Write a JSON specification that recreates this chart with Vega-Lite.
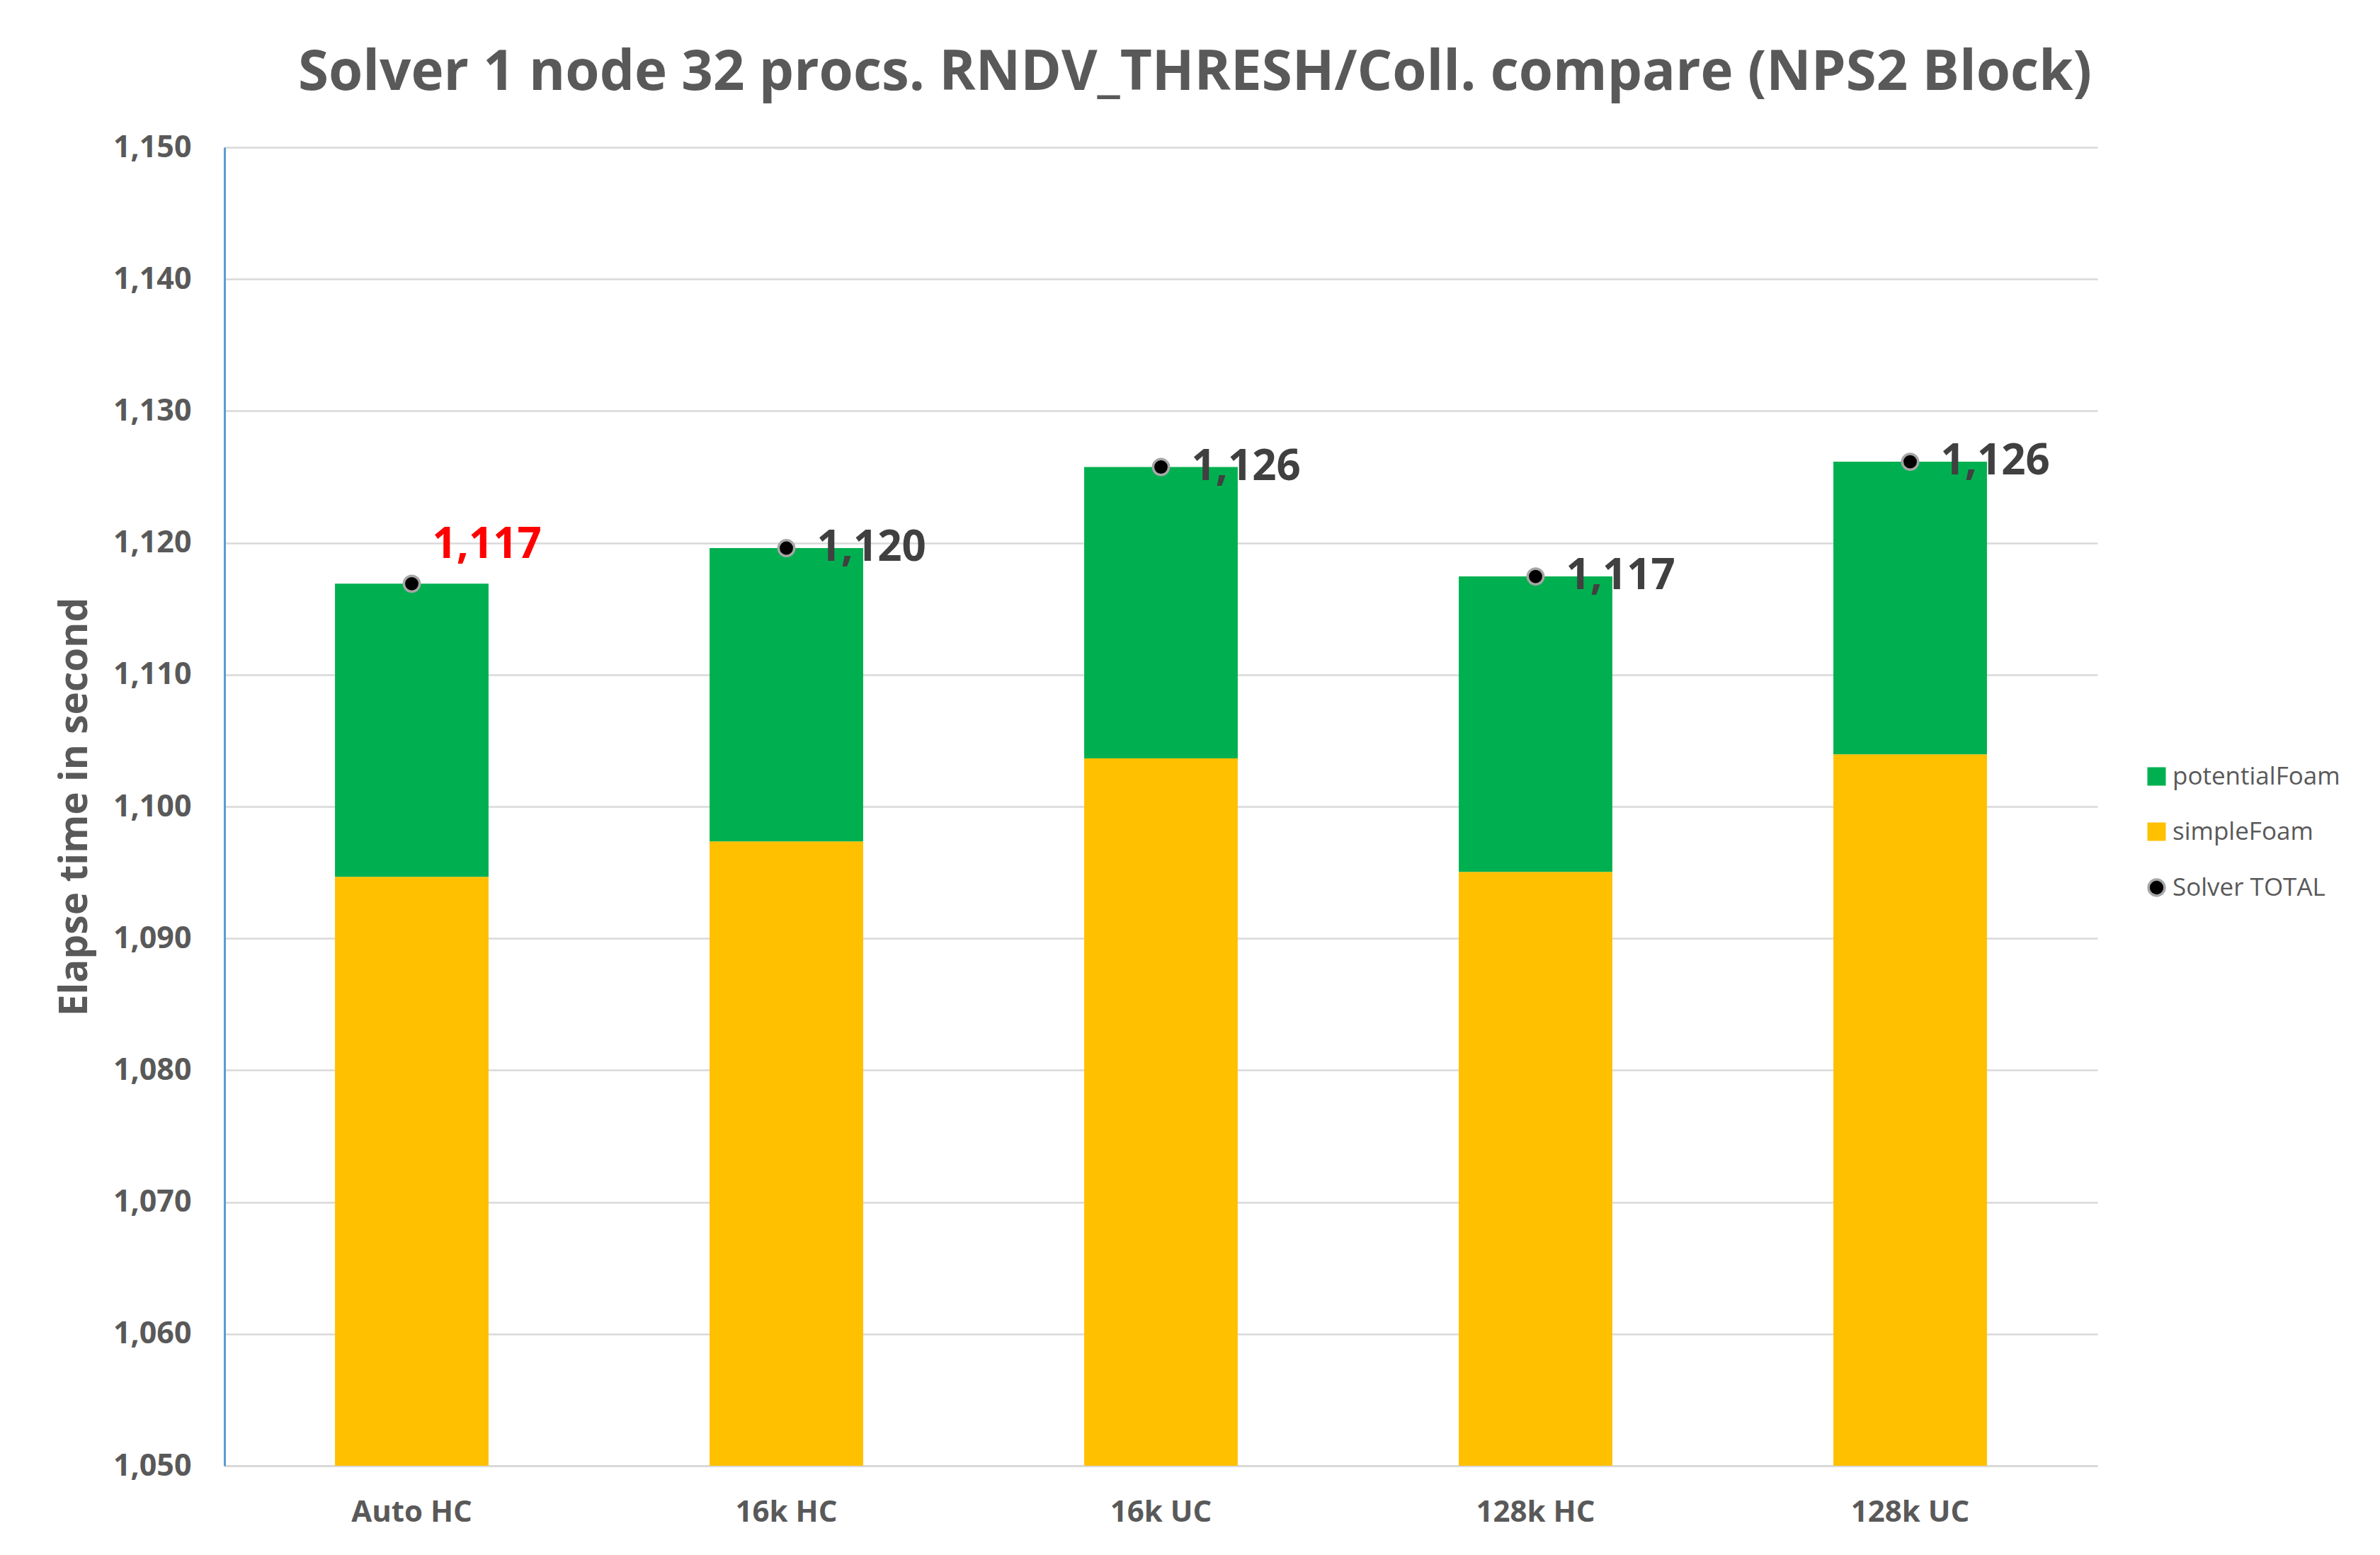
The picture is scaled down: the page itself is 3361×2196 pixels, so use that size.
{
  "$schema": "https://vega.github.io/schema/vega-lite/v6.json",
  "autosize": "none",
  "width": 2645,
  "height": 1862,
  "padding": {"left": 317, "top": 208, "right": 399, "bottom": 126},
  "background": "white",
  "config": {"view": {"stroke": null}},
  "title": {
    "text": "Solver 1 node 32 procs. RNDV_THRESH/Coll. compare (NPS2 Block)",
    "font": "Open Sans",
    "fontSize": 78,
    "fontWeight": "bold",
    "color": "#595959",
    "anchor": "middle",
    "frame": "group",
    "dx": 48,
    "baseline": "alphabetic",
    "offset": -18
  },
  "datasets": {
    "parts": [
      {"config": "Auto HC", "series": "simpleFoam", "value": 1094.67},
      {"config": "Auto HC", "series": "potentialFoam", "value": 22.23},
      {"config": "16k HC", "series": "simpleFoam", "value": 1097.35},
      {"config": "16k HC", "series": "potentialFoam", "value": 22.25},
      {"config": "16k UC", "series": "simpleFoam", "value": 1103.65},
      {"config": "16k UC", "series": "potentialFoam", "value": 22.1},
      {"config": "128k HC", "series": "simpleFoam", "value": 1095.04},
      {"config": "128k HC", "series": "potentialFoam", "value": 22.41},
      {"config": "128k UC", "series": "simpleFoam", "value": 1103.96},
      {"config": "128k UC", "series": "potentialFoam", "value": 22.19}
    ],
    "totals": [
      {"config": "Auto HC", "total": 1116.9},
      {"config": "16k HC", "total": 1119.6},
      {"config": "16k UC", "total": 1125.75},
      {"config": "128k HC", "total": 1117.45},
      {"config": "128k UC", "total": 1126.15}
    ]
  },
  "layer": [
    {
      "data": {"name": "parts"},
      "mark": {"type": "bar", "clip": true},
      "encoding": {
        "x": {
          "field": "config",
          "type": "nominal",
          "sort": null,
          "scale": {"paddingInner": 0.59, "paddingOuter": 0.295},
          "axis": {
            "title": null,
            "labelFont": "Open Sans",
            "labelFontSize": 42,
            "labelFontWeight": "bold",
            "labelColor": "#595959",
            "labelAngle": 0,
            "ticks": false,
            "tickSize": 0,
            "labelPadding": 45,
            "domainColor": "#D9D9D9",
            "domainWidth": 3,
            "grid": false
          }
        },
        "y": {
          "field": "value",
          "type": "quantitative",
          "stack": "zero",
          "scale": {"domain": [1050, 1150], "nice": false, "zero": false},
          "axis": {
            "title": "Elapse time in second",
            "titleFont": "Open Sans",
            "titleFontSize": 55,
            "titleFontWeight": "bold",
            "titleColor": "#595959",
            "titlePadding": 25,
            "values": [1050, 1060, 1070, 1080, 1090, 1100, 1110, 1120, 1130, 1140, 1150],
            "format": ",d",
            "labelFont": "Open Sans",
            "labelFontSize": 43,
            "labelFontWeight": "bold",
            "labelColor": "#595959",
            "labelPadding": 47,
            "ticks": false,
            "tickSize": 0,
            "domainColor": "#5B9BD5",
            "domainWidth": 3,
            "grid": true,
            "gridColor": "#D9D9D9",
            "gridWidth": 2.5
          }
        },
        "color": {
          "field": "series",
          "type": "nominal",
          "scale": {
            "domain": ["potentialFoam", "simpleFoam", "Solver TOTAL"],
            "range": ["#00B050", "#FFC000", "#000000"]
          },
          "legend": {
            "orient": "none",
            "legendX": 2711,
            "legendY": 871,
            "title": null,
            "labelFont": "Open Sans",
            "labelFontSize": 35,
            "labelColor": "#595959",
            "labelLimit": 600,
            "symbolType": "square",
            "symbolSize": 676,
            "symbolStrokeWidth": 0,
            "rowPadding": 42,
            "labelOffset": 5,
            "encode": {
              "symbols": {
                "update": {
                  "shape": {"signal": "datum.value === 'Solver TOTAL' ? 'circle' : 'square'"},
                  "size": {"signal": "datum.value === 'Solver TOTAL' ? 520 : 676"},
                  "stroke": {"signal": "datum.value === 'Solver TOTAL' ? '#A6A6A6' : 'transparent'"},
                  "strokeWidth": {"signal": "datum.value === 'Solver TOTAL' ? 3.5 : 0"}
                }
              }
            }
          }
        },
        "order": {"field": "series", "sort": "descending"}
      }
    },
    {
      "data": {"name": "totals"},
      "mark": {"type": "point", "shape": "circle", "filled": true, "size": 500, "stroke": "#A6A6A6", "strokeWidth": 3.5, "opacity": 1},
      "encoding": {
        "x": {"field": "config", "type": "nominal", "sort": null},
        "y": {"field": "total", "type": "quantitative"},
        "color": {"datum": "Solver TOTAL"}
      }
    },
    {
      "data": {"name": "totals"},
      "transform": [{"filter": "datum.config !== 'Auto HC'"}],
      "mark": {"type": "text", "align": "left", "baseline": "middle", "dx": 43, "font": "Open Sans", "fontWeight": "bold", "fontSize": 60, "color": "#404040"},
      "encoding": {
        "x": {"field": "config", "type": "nominal", "sort": null},
        "y": {"field": "total", "type": "quantitative"},
        "text": {"field": "total", "format": ",.0f"}
      }
    },
    {
      "data": {"name": "totals"},
      "transform": [{"filter": "datum.config === 'Auto HC'"}],
      "mark": {"type": "text", "align": "left", "baseline": "middle", "dx": 29, "dy": -54, "font": "Open Sans", "fontWeight": "bold", "fontSize": 60, "color": "#FF0000"},
      "encoding": {
        "x": {"field": "config", "type": "nominal", "sort": null},
        "y": {"field": "total", "type": "quantitative"},
        "text": {"field": "total", "format": ",.0f"}
      }
    }
  ]
}
